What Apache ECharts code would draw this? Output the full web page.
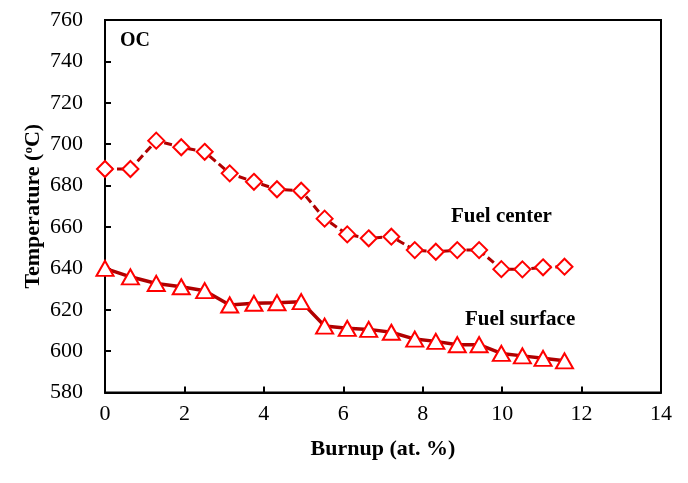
<!DOCTYPE html>
<html>
<head>
<meta charset="utf-8">
<script src="https://cdn.jsdelivr.net/npm/echarts@6/dist/echarts.min.js"></script>
<style>html,body{margin:0;padding:0;background:#fff;}#c{width:688px;height:483px;}</style>
</head>
<body>
<div id="c"></div>
<script>
var burnup = [0.0, 0.64, 1.29, 1.92, 2.51, 3.14, 3.75, 4.33, 4.94, 5.53, 6.10, 6.64, 7.21, 7.80, 8.33, 8.87, 9.42, 9.98, 10.51, 11.03, 11.57];
var fuelCenter = [688, 688, 701.7, 698.5, 696.3, 685.9, 681.8, 678.2, 677.5, 664, 656.4, 654.5, 655.3, 648.8, 648, 648.8, 648.8, 639.6, 639.5, 640.5, 640.8];
var fuelSurface = [640, 635.9, 632.7, 631.1, 629.2, 622.3, 623.1, 623.4, 623.9, 612.1, 611, 610.5, 609.1, 605.8, 604.7, 603.1, 603.1, 598.9, 597.7, 596.5, 595.3];
var seriesNames = ['Fuel center', 'Fuel surface'];
var panelLabel = 'OC';
var xName = 'Burnup (at. %)';

function pairs(xs, ys) { return xs.map(function (x, i) { return [x, ys[i]]; }); }

var FONT = 'Liberation Serif';
var chart = echarts.init(document.getElementById('c'), null, { renderer: 'canvas' });
chart.setOption({
  animation: false,
  backgroundColor: '#fff',
  grid: { left: 105, right: 27, top: 20, bottom: 90.5, show: true, borderColor: '#000', borderWidth: 2, backgroundColor: 'transparent' },
  xAxis: {
    type: 'value', min: 0, max: 14, interval: 2,
    name: xName, nameLocation: 'middle', nameGap: 46,
    nameTextStyle: { fontFamily: FONT, fontSize: 22, fontWeight: 'bold', color: '#000' },
    axisLine: { show: true, onZero: false, lineStyle: { color: '#000', width: 2 } },
    axisTick: { show: true, inside: true, length: 6, lineStyle: { color: '#000', width: 2 } },
    axisLabel: { margin: 11, fontFamily: FONT, fontSize: 22, color: '#000' },
    splitLine: { show: false }
  },
  yAxis: {
    type: 'value', min: 580, max: 760, interval: 20,
    name: 'Temperature ({sup|o}C)', nameLocation: 'middle', nameGap: 61, nameRotate: 90,
    nameMoveOverlap: false,
    nameTextStyle: {
      fontFamily: FONT, fontSize: 22, fontWeight: 'bold', color: '#000',
      rich: { sup: { fontFamily: FONT, fontSize: 13, fontWeight: 'bold', color: '#000', verticalAlign: 'top', padding: [0, 0, 9, 0] } }
    },
    axisLine: { show: true, lineStyle: { color: '#000', width: 2 } },
    axisTick: { show: true, inside: true, length: 6, lineStyle: { color: '#000', width: 2 } },
    axisLabel: { margin: 22, fontFamily: FONT, fontSize: 22, color: '#000' },
    splitLine: { show: false }
  },
  series: [
    {
      name: seriesNames[0], type: 'line', data: pairs(burnup, fuelCenter),
      symbol: 'diamond', symbolSize: 16, showAllSymbol: true,
      lineStyle: { color: '#b00000', width: 3, type: [8, 4] },
      itemStyle: { color: '#fff', borderColor: '#ff0000', borderWidth: 2 },
      z: 3
    },
    {
      name: seriesNames[1], type: 'line', data: pairs(burnup, fuelSurface),
      symbol: 'triangle', symbolSize: [17, 15], showAllSymbol: true,
      lineStyle: { color: '#b00000', width: 3.5 },
      itemStyle: { color: '#fff', borderColor: '#ff0000', borderWidth: 2 },
      z: 3
    }
  ],
  graphic: [
    { type: 'text', left: 120, top: 31, style: { text: panelLabel, fontFamily: FONT, fontSize: 20, fontWeight: 'bold', fill: '#000' } },
    { type: 'text', left: 451, top: 206, style: { text: seriesNames[0], fontFamily: FONT, fontSize: 21, fontWeight: 'bold', fill: '#000' } },
    { type: 'text', left: 465, top: 309, style: { text: seriesNames[1], fontFamily: FONT, fontSize: 21, fontWeight: 'bold', fill: '#000' } }
  ]
});
</script>
</body>
</html>
